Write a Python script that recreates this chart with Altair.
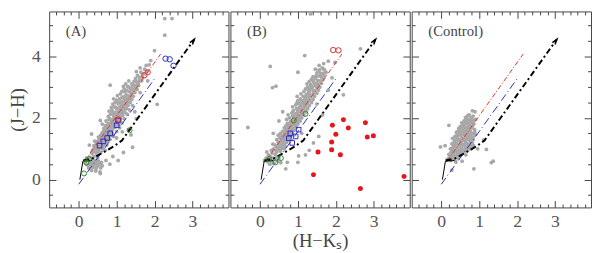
import altair as alt
import pandas as pd

# ---------------- data ----------------
panel_labels = ["(A)", "(B)", "(Control)"]

gray_A = [
    (0.18,0.55),(0.22,0.48),(0.25,0.62),(0.28,0.52),(0.3,0.42),(0.32,0.58),(0.35,0.5),(0.36,0.66),
    (0.38,0.4),(0.4,0.55),(0.42,0.47),(0.44,0.62),(0.46,0.36),(0.48,0.52),(0.5,0.44),(0.52,0.6),
    (0.55,0.5),(0.58,0.38),(0.6,0.56),(0.26,0.38),(0.34,0.3),(0.45,0.28),(0.56,0.25),(0.62,0.45),
    (0.2,0.7),(0.3,0.72),(0.4,0.75),(0.5,0.7),
    (0.35,0.85),(0.42,0.9),(0.48,0.82),(0.52,0.95),(0.58,0.88),(0.45,1.02),(0.55,1.08),(0.62,1.0),
    (0.66,1.12),(0.5,1.15),(0.4,1.1),(0.7,0.95),(0.6,1.18),(0.38,0.98),
    (0.5,1.25),(0.55,1.32),(0.6,1.26),(0.64,1.4),(0.68,1.3),(0.72,1.45),(0.76,1.36),(0.7,1.55),
    (0.62,1.52),(0.8,1.5),(0.84,1.42),(0.58,1.44),(0.66,1.22),(0.74,1.24),(0.86,1.58),(0.9,1.48),
    (0.52,1.38),(0.78,1.28),
    (0.66,1.66),(0.7,1.75),(0.74,1.68),(0.78,1.82),(0.82,1.7),(0.86,1.78),(0.9,1.65),(0.94,1.85),
    (0.98,1.72),(0.8,1.95),(0.88,1.92),(0.96,1.98),(1.02,1.88),(1.06,1.76),(0.72,1.9),(0.62,1.8),
    (1.1,1.95),(0.84,1.62),
    (0.78,2.05),(0.84,2.12),(0.88,2.25),(0.92,2.08),(0.96,2.18),(1.0,2.3),(1.04,2.12),(1.08,2.24),
    (1.12,2.38),(0.94,2.36),(0.86,2.34),(1.16,2.15),(1.0,2.02),(0.8,2.22),(1.2,2.28),(0.9,2.45),
    (0.96,2.5),(1.0,2.58),(1.04,2.46),(1.08,2.62),(1.12,2.52),(1.16,2.68),(1.2,2.58),(1.24,2.72),
    (1.02,2.72),(1.1,2.78),(1.28,2.62),(0.92,2.62),
    (1.14,2.86),(1.2,2.94),(1.26,2.88),(1.3,3.02),(1.36,2.96),(1.4,3.1),(1.24,3.1),(1.46,3.18),
    (1.32,3.2),(1.18,3.02),
    (1.5,3.28),(1.55,3.38),(1.6,3.32),(1.64,3.48),(1.7,3.42),(1.74,3.58),(1.8,3.5),(1.62,3.62),
    (1.86,3.72),(1.9,3.86),(1.52,3.5),(1.78,3.7),
    (0.42,1.0),(0.5,0.98),(0.56,1.05),(0.48,1.12),(0.6,1.12),(0.54,1.2),(0.66,1.18),(0.6,1.3),
    (0.7,1.33),(0.64,1.42),(0.76,1.44),(0.72,1.52),(0.82,1.54),(0.78,1.6),(0.88,1.62),(0.84,1.72),
    (0.94,1.7),(0.9,1.8),(1.0,1.82),(0.96,1.9),(1.06,1.9),(1.0,2.0),(1.1,2.0),(1.04,2.08),
    (1.16,2.08),(1.1,2.18),(1.22,2.18),(1.14,2.28),(1.26,2.3),(1.2,2.38),(1.3,2.4),(1.26,2.48),
    (1.36,2.5),(1.3,2.58),(1.4,2.6),(1.34,2.68),(1.44,2.7),(1.38,2.78),(1.48,2.82),(1.44,2.9),
    (1.54,2.92),(1.5,3.0),(1.58,3.05),(1.56,3.15),(1.66,3.2),(1.68,3.32),
    (0.46,1.2),(0.56,1.38),(0.66,1.56),(0.74,1.76),(0.82,1.98),(0.9,2.16),(0.98,2.34),(1.06,2.5),
    (1.14,2.66),(1.22,2.84),(1.3,3.0),
    (0.74,1.12),(0.82,1.3),(0.92,1.4),(1.0,1.56),(1.08,1.68),(1.14,1.84),(1.2,1.98),(1.28,2.12),
    (1.34,2.26),(1.42,2.4),
    (0.36,0.92),(0.5,0.9),(0.62,1.06),(0.52,1.06),(0.68,1.24),(0.58,1.22),(0.74,1.38),(0.62,1.36),
    (0.8,1.44),(0.68,1.48),(0.86,1.66),(0.74,1.6),(0.92,1.76),(0.8,1.76),(0.98,1.96),(0.86,1.88),
    (1.04,2.0),(0.92,1.98),(1.08,2.12),(0.96,2.1),(1.14,2.22),(1.04,2.2),(1.18,2.32),(1.08,2.34),
    (1.24,2.44),(1.14,2.44),(1.3,2.52),(1.18,2.52),(1.36,2.64),(1.22,2.64),(1.4,2.72),(1.28,2.74),
    (1.44,2.84),(1.34,2.86),(1.5,2.96),(1.4,2.98),(1.54,3.08),(1.46,3.06),(1.6,3.22),(1.5,3.2),
    (2.27,5.22),(2.46,5.22),(2.27,4.68),(2.07,2.44),(0.83,3.06),(0.57,1.92),(1.42,1.05),(1.04,0.62),
    (1.18,0.88),(0.57,0.2),(1.32,1.62),(1.38,1.45),(1.48,2.2),(1.52,1.98),(0.42,1.25),(0.34,1.48),
    (1.62,2.82),(0.28,1.12),(1.82,3.2),(2.0,4.18),(0.72,0.62),(0.82,0.5),(1.0,1.35),(1.15,1.55),
    (0.9,0.75),
]

gray_B = [
    (0.12,0.62),(0.16,0.7),(0.2,0.58),(0.24,0.66),(0.28,0.74),(0.3,0.6),(0.34,0.7),(0.38,0.64),
    (0.42,0.72),(0.46,0.6),(0.22,0.8),(0.32,0.86),(0.4,0.82),(0.5,0.68),(0.26,0.5),(0.36,0.52),
    (0.55,0.55),(0.18,0.9),
    (0.3,0.95),(0.36,1.0),(0.42,0.94),(0.46,1.05),(0.5,0.98),(0.4,1.12),(0.54,1.14),(0.58,1.02),
    (0.48,1.22),(0.6,1.25),(0.34,1.15),(0.64,1.12),(0.44,1.3),(0.56,1.3),
    (0.52,1.36),(0.58,1.42),(0.62,1.34),(0.66,1.48),(0.7,1.4),(0.6,1.56),(0.68,1.62),(0.74,1.55),
    (0.78,1.66),(0.54,1.5),(0.72,1.3),(0.82,1.5),(0.64,1.68),(0.48,1.44),
    (0.68,1.74),(0.72,1.82),(0.76,1.76),(0.8,1.88),(0.84,1.8),(0.88,1.94),(0.92,1.86),(0.78,2.0),
    (0.86,2.06),(0.94,2.02),(0.98,1.92),(0.7,1.95),(1.02,2.08),(0.9,1.72),(0.74,2.1),
    (0.84,2.16),(0.88,2.24),(0.92,2.14),(0.96,2.3),(1.0,2.2),(1.04,2.34),(1.08,2.26),(0.94,2.42),
    (1.02,2.46),(1.12,2.4),(0.86,2.36),(1.16,2.22),(1.1,2.12),(0.98,2.5),
    (1.0,2.56),(1.06,2.62),(1.1,2.54),(1.14,2.7),(1.18,2.6),(1.22,2.76),(1.08,2.78),(1.16,2.86),
    (1.26,2.68),(1.3,2.84),(0.98,2.7),(1.2,2.5),
    (1.2,2.94),(1.26,3.0),(1.3,2.92),(1.34,3.08),(1.38,3.0),(1.42,3.16),(1.3,3.18),(1.46,3.28),
    (1.4,3.34),(1.5,3.12),(1.24,3.1),(1.36,3.26),(1.52,3.36),
    (1.5,3.46),(1.56,3.52),(1.6,3.44),(1.64,3.62),(1.56,3.7),(1.7,3.56),(1.8,3.84),(1.98,3.8),
    (1.68,3.76),(1.46,3.58),
    (0.5,1.0),(0.6,1.02),(0.66,1.08),(0.56,1.1),(0.62,1.18),(0.7,1.2),(0.66,1.28),(0.76,1.3),
    (0.7,1.38),(0.8,1.4),(0.76,1.48),(0.86,1.5),(0.8,1.58),(0.9,1.6),(0.86,1.68),(0.96,1.7),
    (0.9,1.78),(1.0,1.8),(0.96,1.88),(1.06,1.9),(1.0,1.98),(1.1,2.0),(1.06,2.08),(1.16,2.1),
    (1.12,2.18),(1.22,2.2),(1.16,2.28),(1.26,2.3),(1.2,2.38),(1.3,2.4),(1.26,2.48),(1.36,2.5),
    (1.3,2.58),(1.4,2.6),(1.34,2.68),(1.44,2.7),(1.4,2.78),(1.5,2.8),(1.44,2.88),(1.54,2.9),
    (1.5,2.98),(1.58,3.0),(1.54,3.08),(1.62,3.12),(1.58,3.2),(1.66,3.24),(1.62,3.32),(1.7,3.36),
    (1.66,3.44),(1.74,3.48),
    (0.5,1.18),(0.58,1.34),(0.66,1.5),(0.74,1.66),(0.82,1.84),(0.9,2.0),(0.98,2.16),(1.06,2.32),
    (1.12,2.48),(1.2,2.64),(1.28,2.8),(1.36,2.96),(1.44,3.1),
    (0.44,0.9),(0.54,0.92),(0.52,1.08),(0.64,1.0),(0.58,1.24),(0.7,1.3),(0.64,1.4),(0.74,1.42),
    (0.7,1.58),(0.84,1.58),(0.78,1.74),(0.92,1.76),(0.86,1.9),(0.98,1.84),(0.94,2.08),(1.04,2.0),
    (1.0,2.26),(1.12,2.28),(1.08,2.42),(1.18,2.44),(1.14,2.56),(1.26,2.56),(1.22,2.7),(1.32,2.72),
    (1.28,2.88),(1.4,2.88),(1.34,3.02),(1.46,3.04),(1.4,3.2),(1.52,3.22),(1.48,3.36),(1.6,3.36),
    (1.56,3.56),(1.68,3.58),
    (0.27,3.67),(0.33,2.98),(0.42,3.03),(-0.32,1.69),(1.18,4.02),(1.0,3.48),(2.65,4.24),(2.2,2.75),
    (1.41,1.19),(1.33,5.37),(0.68,0.35),(1.02,0.77),(1.0,0.56),(0.72,0.56),(1.3,0.95),(1.2,0.8),
    (1.55,1.4),(1.65,2.1),(1.5,2.45),(0.6,2.2),(0.5,1.9),(0.35,1.5),(1.8,2.9),(1.9,3.3),(1.1,1.5),
]

gray_C = [
    (0.15,0.65),(0.2,0.7),(0.25,0.62),(0.3,0.72),(0.35,0.66),(0.4,0.74),(0.45,0.7),(0.5,0.78),
    (0.2,0.82),(0.26,0.88),(0.32,0.84),(0.38,0.9),(0.44,0.86),(0.5,0.92),(0.56,0.88),(0.62,0.95),
    (0.24,1.0),(0.3,1.02),(0.36,1.06),(0.42,1.0),(0.48,1.08),(0.54,1.02),(0.6,1.1),(0.66,1.05),
    (0.72,1.12),(0.78,1.0),(0.28,1.16),(0.34,1.22),(0.4,1.18),(0.46,1.26),(0.52,1.2),(0.58,1.28),
    (0.64,1.22),(0.7,1.3),(0.76,1.25),(0.82,1.2),(0.3,1.34),(0.36,1.4),(0.42,1.36),(0.48,1.44),
    (0.54,1.38),(0.6,1.46),(0.66,1.4),(0.72,1.48),(0.78,1.42),(0.84,1.38),(0.9,1.46),(0.4,1.54),
    (0.46,1.6),(0.52,1.55),(0.58,1.63),(0.64,1.57),(0.7,1.65),(0.76,1.6),(0.82,1.68),(0.88,1.62),
    (0.5,1.72),(0.56,1.78),(0.62,1.74),(0.68,1.82),(0.74,1.76),(0.8,1.85),(0.86,1.8),(0.6,1.9),
    (0.66,1.96),(0.72,1.92),(0.78,2.0),(0.84,2.06),(0.7,2.08),(0.9,1.95),(0.55,0.6),(0.65,0.8),
    (0.7,0.95),(0.85,1.1),(0.38,0.58),
    (0.3,0.8),(0.42,0.8),(0.54,0.82),(0.28,0.94),(0.4,0.96),(0.52,0.98),(0.64,1.0),(0.32,1.1),
    (0.44,1.12),(0.56,1.14),(0.68,1.16),(0.8,1.12),(0.36,1.28),(0.48,1.3),(0.6,1.32),(0.72,1.36),
    (0.84,1.3),(0.42,1.46),(0.54,1.48),(0.66,1.5),(0.78,1.52),(0.88,1.54),(0.46,1.66),(0.58,1.68),
    (0.7,1.7),(0.82,1.74),(0.54,1.84),(0.66,1.86),(0.76,1.9),(0.64,2.02),(0.74,2.1),(0.86,1.92),
    (0.24,0.74),(0.36,0.76),(0.48,0.86),(0.6,0.9),(0.7,1.02),(0.76,1.18),
    (0.26,0.66),(0.34,0.78),(0.46,0.78),(0.34,0.96),(0.46,0.94),(0.58,0.96),(0.38,1.12),(0.5,1.14),
    (0.62,1.16),(0.74,1.06),(0.42,1.3),(0.54,1.3),(0.66,1.3),(0.78,1.32),(0.48,1.5),(0.6,1.52),
    (0.72,1.56),(0.84,1.5),(0.52,1.64),(0.64,1.66),(0.76,1.7),(0.6,1.8),(0.72,1.82),(0.68,1.98),
    (0.8,1.96),
    (0.82,2.23),(0.89,2.2),(0.2,1.76),(-0.02,1.06),(1.19,0.98),(1.37,0.6),(1.32,0.55),(0.86,0.35),
    (0.28,0.31),(1.12,1.29),(0.1,1.1),(0.96,1.0),
]

red_dots_B = [
    (1.91,1.76),(2.2,1.94),(2.33,1.67),(2.78,1.84),(2.0,1.47),(2.83,1.38),(2.99,1.42),
    (1.89,1.22),(1.89,0.97),(1.53,0.9),(2.12,0.81),(1.41,0.16),(2.65,-0.29),(3.8,0.1),
]

blue_sq = [
    [(0.55,1.1),(0.65,1.24),(0.83,1.5),(1.0,1.76),(1.04,1.92),(0.75,1.35)],
    [(0.76,1.34),(0.8,1.5),(0.94,1.4),(0.85,1.19),(1.02,1.62)],
    [],
]
blue_circ = [[(2.29,3.92),(2.4,3.9),(2.5,3.69)], [], []]
red_open = [[(1.73,3.38),(1.82,3.48),(1.05,1.95)], [(1.93,4.2),(2.07,4.19)], []]
green_open = [[(0.14,0.2),(0.27,0.67),(1.34,1.6),(0.2,0.55)],
              [(0.89,1.92),(0.24,0.67),(0.41,0.56),(1.2,2.13),(0.55,0.7)], []]

red_line = [(0.15,0.6),(2.16,4.07)]
blue_line = [(0.0,-0.15),(2.03,3.32)]
black_solid = [(0.03,0.0),(0.11,0.6),(0.35,0.62)]
black_dash = [(0.12,0.62),(0.37,0.69),(0.93,1.08),(1.14,1.27),(3.05,4.55)]
arrow_tip = [(3.05,4.55)]

x_major = [0, 1, 2, 3]
x_minor = [-0.6,-0.4,-0.2,0.2,0.4,0.6,0.8,1.2,1.4,1.6,1.8,2.2,2.4,2.6,2.8,3.2,3.4,3.6,3.8]
y_major = [0, 2, 4]
y_minor = [-0.5,0.5,1,1.5,2.5,3,3.5,4.5,5]

X_DOMAIN = [-0.78, 3.95]
Y_DOMAIN = [-0.9, 5.45]
W, H = 183, 200
FONT = "Liberation Serif"
TXT = "#444444"
LBL = "#555555"
FRAME = "#444444"
GRAY = "#a8a8a8"


def df(pts):
    return pd.DataFrame(pts, columns=["x", "y"]).reset_index().rename(columns={"index": "o"})


xs = alt.Scale(domain=X_DOMAIN, nice=False, zero=False)
ys = alt.Scale(domain=Y_DOMAIN, nice=False, zero=False)


def ax(orient, values, size, labels=False, title=None, label_pad=5, title_pad=2):
    kw = dict(orient=orient, values=values, tickSize=size, offset=-size, domain=False,
              grid=False, labels=labels, ticks=True, tickColor=FRAME, tickWidth=1,
              minExtent=0, labelFont=FONT, labelFontSize=18, labelColor=LBL,
              labelPadding=label_pad, labelFlush=False, labelOverlap=False,
              titleFont=FONT, titleFontSize=19, titleFontWeight="normal", titleColor=TXT,
              titlePadding=title_pad)
    kw["title"] = title if title is not None else ""
    return alt.Axis(**kw)


def panel(i, gray, reds=None):
    first = i == 0
    xt = "(H\u2212K\u209b)" if i == 1 else None
    yt = "(J\u2212H)" if first else None

    pts = alt.Chart(df(gray)).mark_circle(size=15, color=GRAY, opacity=1).encode(
        x=alt.X("x:Q", scale=xs, axis=ax("bottom", x_major, 7, labels=True, title=xt, label_pad=5, title_pad=2)),
        y=alt.Y("y:Q", scale=ys, axis=ax("left", y_major, 7, labels=first, title=yt, label_pad=9, title_pad=4)),
    )
    red = alt.Chart(df(red_line)).mark_line(color="#e0302a", strokeWidth=1, strokeDash=[5, 2, 1, 2]).encode(
        x=alt.X("x:Q", scale=xs, axis=ax("bottom", x_minor, 3.5)),
        y=alt.Y("y:Q", scale=ys, axis=ax("left", y_minor, 3.5)),
        order="o:Q",
    )
    blue = alt.Chart(df(blue_line)).mark_line(color="#2b2bc4", strokeWidth=1, strokeDash=[8, 3, 1, 3]).encode(
        x=alt.X("x:Q", scale=xs, axis=ax("top", x_major, 7)),
        y=alt.Y("y:Q", scale=ys, axis=ax("right", y_major, 7)),
        order="o:Q",
    )
    bdash = alt.Chart(df(black_dash)).mark_line(color="black", strokeWidth=2, strokeDash=[6, 3, 2, 3]).encode(
        x=alt.X("x:Q", scale=xs, axis=ax("top", x_minor, 3.5)),
        y=alt.Y("y:Q", scale=ys, axis=ax("right", y_minor, 3.5)),
        order="o:Q",
    )
    bsolid = alt.Chart(df(black_solid)).mark_line(color="black", strokeWidth=1).encode(
        x=alt.X("x:Q", scale=xs, axis=None), y=alt.Y("y:Q", scale=ys, axis=None), order="o:Q")
    arrow = alt.Chart(df(arrow_tip)).mark_point(
        shape="M-0.6,2 L0,0 L0.6,2", filled=False, stroke="black", strokeWidth=1.5, size=30, angle=36, opacity=1
    ).encode(x=alt.X("x:Q", scale=xs, axis=None), y=alt.Y("y:Q", scale=ys, axis=None))

    layers = [pts, red, blue, bdash, bsolid, arrow]

    def sym(pts_, shape, color, size=22):
        return alt.Chart(df(pts_)).mark_point(shape=shape, filled=False, color=color, strokeWidth=1,
                                              size=size, opacity=1).encode(
            x=alt.X("x:Q", scale=xs, axis=None), y=alt.Y("y:Q", scale=ys, axis=None))

    if blue_sq[i]:
        layers.append(sym(blue_sq[i], "square", "#2b2bc4"))
    if blue_circ[i]:
        layers.append(sym(blue_circ[i], "circle", "#2b2bc4", 30))
    if red_open[i]:
        layers.append(sym(red_open[i], "circle", "#e0302a", 30))
    if green_open[i]:
        layers.append(sym(green_open[i], "circle", "#2e8b2e", 26))
    if reds:
        layers.append(alt.Chart(df(reds)).mark_circle(size=26, color="#e8141c", opacity=1).encode(
            x=alt.X("x:Q", scale=xs, axis=None), y=alt.Y("y:Q", scale=ys, axis=None)))

    lab = alt.Chart(pd.DataFrame({"t": [panel_labels[i]]})).mark_text(
        align="left", baseline="middle", font=FONT, fontSize=15, color=TXT
    ).encode(text="t:N", x=alt.value(17), y=alt.value(20))
    layers.append(lab)

    return alt.layer(*layers).resolve_axis(x="independent", y="independent").properties(width=W, height=H)


chart = alt.hconcat(
    panel(0, gray_A), panel(1, gray_B, red_dots_B), panel(2, gray_C), spacing=0
).properties(padding=0).configure_view(stroke=FRAME, strokeWidth=1)

chart.save("out.html", embed_options={"renderer": "svg", "actions": False})
